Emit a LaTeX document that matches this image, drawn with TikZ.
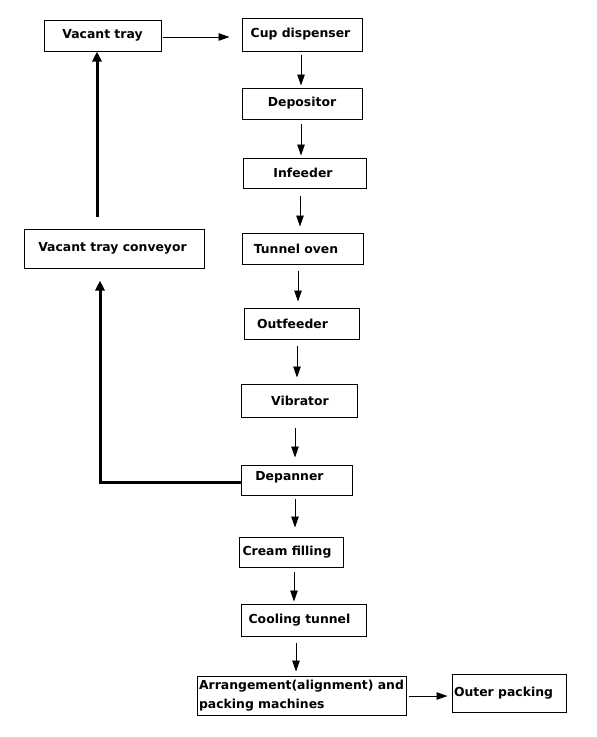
\documentclass[tikz,border=0pt]{standalone}
\usepackage{fontspec}
\setmainfont{DejaVu Sans}
\usetikzlibrary{arrows.meta,calc}
\newcommand{\gapr}[1]{\rule{#1}{0pt}}
\begin{document}
\begin{tikzpicture}[x=1pt,y=-1pt,
  box/.style={draw,line width=1pt,inner sep=0pt,font=\bfseries\fontsize{12.4}{19}\selectfont},
  arr/.style={line width=0.9pt,-{Triangle[length=11pt,width=7.5pt]}},
  bigarr/.style={line width=3pt,-{Triangle[length=10pt,width=9pt]}}
]
\useasboundingbox (0,0) rectangle (597,737);
\node[box,minimum width=117pt,minimum height=31pt] (vt) at (102.5,35.5) {Vacant tray};
\node[box,minimum width=120pt,minimum height=33pt] (cup) at (302,34.5) {Cup dispenser\gapr{3pt}};
\node[box,minimum width=120pt,minimum height=31pt] (dep) at (302,103.5) {Depositor};
\node[box,minimum width=123pt,minimum height=30pt] (inf) at (304.5,173) {Infeeder\gapr{3pt}};
\node[box,minimum width=121pt,minimum height=31pt] (tun) at (302.5,248.5) {Tunnel oven\gapr{13pt}};
\node[box,minimum width=115pt,minimum height=31pt] (out) at (301.5,323.5) {\raisebox{-6pt}{Outfeeder}\gapr{18pt}};
\node[box,minimum width=116pt,minimum height=33pt] (vib) at (299,400.5) {\gapr{2pt}Vibrator};
\node[box,minimum width=111pt,minimum height=30pt] (depn) at (296.5,480) {\raisebox{8pt}{Depanner}\gapr{14pt}};
\node[box,minimum width=104pt,minimum height=30pt] (cream) at (291,552) {Cream filling\gapr{8pt}};
\node[box,minimum width=125pt,minimum height=32pt] (cool) at (303.5,620) {Cooling tunnel\gapr{8pt}};
\node[box,minimum width=209pt,minimum height=39pt,align=left] (arr) at (301.5,695.5) {Arrangement(alignment) and\\packing machines};
\node[box,minimum width=114pt,minimum height=38pt] (outer) at (509,693) {Outer packing\gapr{11pt}};
\node[box,minimum width=180pt,minimum height=39pt] (conv) at (114,248.5) {Vacant tray conveyor\gapr{3pt}};

\draw[arr] ($(vt.east)+(1,1.5)$) -- ($(cup.west)+(-12,2.5)$);
\draw[arr] ($(cup.south)+(-1,3)$) -- ($(dep.north)+(-1,-2)$);
\draw[arr] ($(dep.south)+(-1,4)$) -- ($(inf.north)+(-3.5,-2)$);
\draw[arr] ($(inf.south)+(-4.5,7)$) -- ($(tun.north)+(-2.5,-6)$);
\draw[arr] ($(tun.south)+(-4.5,6)$) -- ($(out.north)+(-3.5,-6)$);
\draw[arr] ($(out.south)+(-4.5,6)$) -- ($(vib.north)+(-2,-6)$);
\draw[arr] ($(vib.south)+(-4,10)$) -- ($(depn.north)+(-1.5,-7)$);
\draw[arr] ($(depn.south)+(-1.5,3)$) -- ($(cream.north)+(4,-9)$);
\draw[arr] ($(cream.south)+(3,4)$) -- ($(cool.north)+(-9.5,-2)$);
\draw[arr] ($(cool.south)+(-7.5,6)$) -- ($(arr.north)+(-5.5,-4)$);
\draw[arr] ($(arr.east)+(2,0.5)$) -- ($(outer.west)+(-4,3)$);
\draw[bigarr] ($(depn.west)+(0,2)$) -| ($(conv.south)+(-14,12)$);
\draw[bigarr] ($(conv.north)+(-17,-12)$) -- ($(vt.south)+(-5.5,0)$);
\end{tikzpicture}
\end{document}
